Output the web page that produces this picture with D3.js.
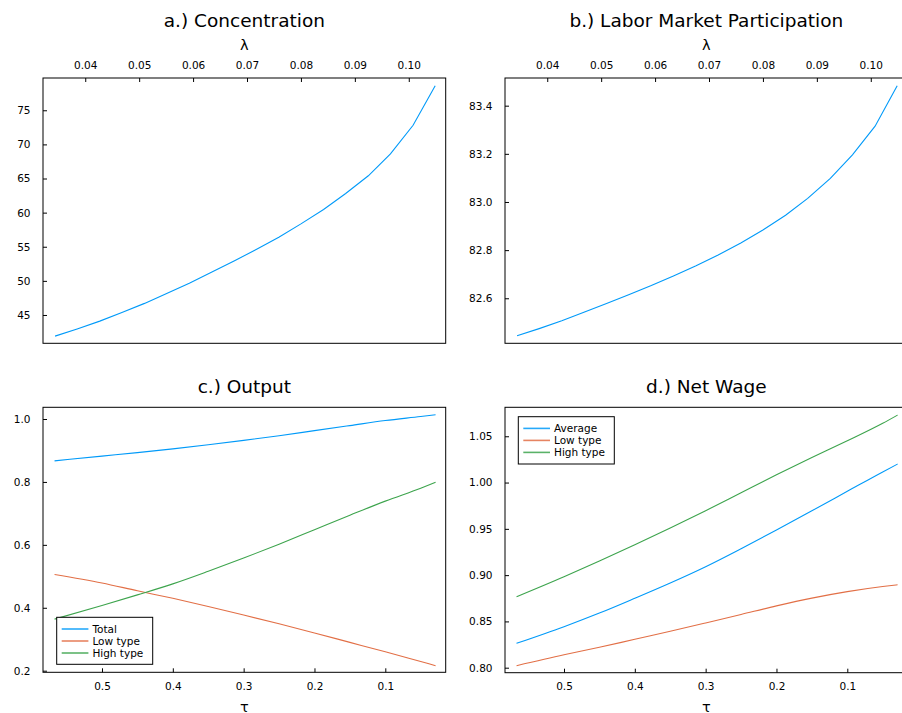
<!DOCTYPE html>
<html>
<head>
<meta charset="utf-8">
<script src="https://cdn.jsdelivr.net/npm/d3@7/dist/d3.min.js"></script>
<style>
  html, body { margin: 0; padding: 0; background: #fff; }
  svg { display: block; font-family: "DejaVu Sans", sans-serif; }
</style>
</head>
<body>
<svg id="chart" width="902" height="713"></svg>
<script>
// Bargaining parameter grid and the two top-row outcomes
const lambda = [0.0344, 0.0385, 0.0427, 0.0468, 0.0510, 0.0551, 0.0593, 0.0634, 0.0676,
                0.0717, 0.0759, 0.0800, 0.0842, 0.0883, 0.0925, 0.0966, 0.1008, 0.1049];
const concentration = [41.9, 42.95, 44.10, 45.35, 46.70, 48.15, 49.65, 51.25, 52.90,
                       54.60, 56.40, 58.35, 60.45, 62.80, 65.40, 68.60, 72.80, 78.6];
const participation = [82.444, 82.474, 82.507, 82.542, 82.578, 82.615, 82.653, 82.693, 82.735,
                       82.780, 82.830, 82.884, 82.945, 83.015, 83.098, 83.196, 83.315, 83.483];

// Tax grid and the bottom-row outcomes
const tau = [0.567, 0.5, 0.45, 0.4, 0.35, 0.3, 0.25, 0.2, 0.15, 0.1, 0.05, 0.029];
const outputTotal = [0.867, 0.882, 0.893, 0.905, 0.918, 0.932, 0.947, 0.963, 0.979, 0.995, 1.008, 1.0137];
const outputLow   = [0.506, 0.479, 0.454, 0.430, 0.404, 0.377, 0.349, 0.320, 0.290, 0.260, 0.229, 0.216];
const outputHigh  = [0.364, 0.4074, 0.441, 0.476, 0.516, 0.558, 0.602, 0.648, 0.694, 0.739, 0.780, 0.7987];
const wageAvg  = [0.8263, 0.8443, 0.859, 0.875, 0.8915, 0.9091, 0.9285, 0.9487, 0.9695, 0.9905, 1.0115, 1.020];
const wageLow  = [0.8022, 0.814, 0.822, 0.8307, 0.8393, 0.8483, 0.8575, 0.8668, 0.8752, 0.8822, 0.8877, 0.8896];
const wageHigh = [0.8767, 0.8983, 0.9153, 0.9328, 0.951, 0.9696, 0.989, 1.0084, 1.027, 1.0451, 1.064, 1.0729];

// Tick values
const lambdaTicks = [0.04, 0.05, 0.06, 0.07, 0.08, 0.09, 0.10];
const tauTicks = [0.5, 0.4, 0.3, 0.2, 0.1];
const concTicks = [45, 50, 55, 60, 65, 70, 75];
const partTicks = [82.6, 82.8, 83.0, 83.2, 83.4];
const outTicks = [0.2, 0.4, 0.6, 0.8, 1.0];
const wageTicks = [0.80, 0.85, 0.90, 0.95, 1.00, 1.05];

const colors = ["#009AF9", "#E26F46", "#3DA44D"];
const svg = d3.select("#chart");
const FONT = "DejaVu Sans, sans-serif";

function panel(opts) {
  const { left, top, width, height, xDomain, yDomain, xTicks, xFmt, yTicks, yFmt,
          xTop, title, titleY, xLabel, xLabelY, series, legend } = opts;
  const x = d3.scaleLinear().domain(xDomain).range([left, left + width]);
  const y = d3.scaleLinear().domain(yDomain).range([top + height, top]);
  const g = svg.append("g");

  // data lines
  series.forEach((s, i) => {
    const line = d3.line()
      .x((d, j) => x(s.x[j]))
      .y(d => y(d))
      .curve(s.curve || d3.curveLinear);
    g.append("path")
      .datum(s.y)
      .attr("fill", "none")
      .attr("stroke", colors[i])
      .attr("stroke-width", 1.1)
      .attr("d", line);
  });

  // frame
  g.append("rect")
    .attr("x", left).attr("y", top)
    .attr("width", width).attr("height", height)
    .attr("fill", "none").attr("stroke", "#000").attr("stroke-width", 1);

  // x axis
  const xAxis = (xTop ? d3.axisTop(x) : d3.axisBottom(x))
    .tickValues(xTicks).tickFormat(xFmt)
    .tickSizeInner(-4).tickSizeOuter(0)
    .tickPadding(xTop ? 9 : 10.2);
  const xg = g.append("g")
    .attr("transform", `translate(0,${xTop ? top : top + height})`)
    .call(xAxis);
  xg.select(".domain").remove();
  xg.selectAll("text").attr("font-size", 10.5).attr("font-family", FONT).attr("fill", "#000");
  xg.selectAll("line").attr("stroke", "#000");

  // y axis
  const yAxis = d3.axisLeft(y)
    .tickValues(yTicks).tickFormat(yFmt)
    .tickSizeInner(-4).tickSizeOuter(0).tickPadding(12.5);
  const yg = g.append("g").attr("transform", `translate(${left},0)`).call(yAxis);
  yg.select(".domain").remove();
  yg.selectAll("text").attr("font-size", 10.5).attr("font-family", FONT).attr("fill", "#000");
  yg.selectAll("line").attr("stroke", "#000");

  // title and axis guide
  g.append("text")
    .attr("x", left + width / 2).attr("y", titleY)
    .attr("text-anchor", "middle").attr("font-size", 18.5).attr("fill", "#000")
    .text(title);
  g.append("text")
    .attr("x", left + width / 2).attr("y", xLabelY)
    .attr("text-anchor", "middle").attr("font-size", 14.5).attr("fill", "#000")
    .text(xLabel);

  // legend
  if (legend) {
    const lg = g.append("g");
    lg.append("rect")
      .attr("x", legend.x).attr("y", legend.y)
      .attr("width", legend.w).attr("height", legend.h)
      .attr("fill", "#fff").attr("stroke", "#000").attr("stroke-width", 1);
    legend.labels.forEach((lab, i) => {
      const cy = legend.y + 11.7 + i * 12;
      lg.append("line")
        .attr("x1", legend.x + 5).attr("x2", legend.x + 31.7)
        .attr("y1", cy).attr("y2", cy)
        .attr("stroke", colors[i]).attr("stroke-width", 1.6).attr("stroke-opacity", 0.85);
      lg.append("text")
        .attr("x", legend.x + 35.7).attr("y", cy).attr("dy", "0.35em")
        .attr("font-size", 10.5).attr("fill", "#000")
        .text(lab);
    });
  }
}

const fmt2 = d3.format(".2f");
const fmt1 = d3.format(".1f");
const fmt0 = d3.format("d");

panel({
  left: 43, top: 78, width: 402.7, height: 265.3,
  xDomain: [0.032167, 0.106848], yDomain: [40.85, 79.73],
  xTicks: lambdaTicks, xFmt: fmt2, yTicks: concTicks, yFmt: fmt0,
  xTop: true, title: "a.) Concentration", titleY: 27.3, xLabel: "λ", xLabelY: 50,
  series: [{ x: lambda, y: concentration }]
});

panel({
  left: 505, top: 78, width: 402.7, height: 265.3,
  xDomain: [0.032167, 0.106848], yDomain: [82.413, 83.515],
  xTicks: lambdaTicks, xFmt: fmt2, yTicks: partTicks, yFmt: fmt1,
  xTop: true, title: "b.) Labor Market Participation", titleY: 27.3, xLabel: "λ", xLabelY: 50,
  series: [{ x: lambda, y: participation }]
});

panel({
  left: 43, top: 407.3, width: 402.7, height: 265,
  xDomain: [0.5833, 0.01472], yDomain: [0.1949, 1.0372],
  xTicks: tauTicks, xFmt: fmt1, yTicks: outTicks, yFmt: fmt1,
  xTop: false, title: "c.) Output", titleY: 393, xLabel: "τ", xLabelY: 711.5,
  series: [
    { x: tau, y: outputTotal, curve: d3.curveMonotoneX },
    { x: tau, y: outputLow, curve: d3.curveMonotoneX },
    { x: tau, y: outputHigh, curve: d3.curveMonotoneX }
  ],
  legend: { x: 56.7, y: 617.3, w: 96, h: 47, labels: ["Total", "Low type", "High type"] }
});

panel({
  left: 505, top: 407.3, width: 402.7, height: 265.4,
  xDomain: [0.5833, 0.01472], yDomain: [0.7946, 1.0813],
  xTicks: tauTicks, xFmt: fmt1, yTicks: wageTicks, yFmt: fmt2,
  xTop: false, title: "d.) Net Wage", titleY: 393, xLabel: "τ", xLabelY: 711.5,
  series: [
    { x: tau, y: wageAvg, curve: d3.curveMonotoneX },
    { x: tau, y: wageLow, curve: d3.curveMonotoneX },
    { x: tau, y: wageHigh, curve: d3.curveMonotoneX }
  ],
  legend: { x: 518.3, y: 416.7, w: 96, h: 47.3, labels: ["Average", "Low type", "High type"] }
});
</script>
</body>
</html>
